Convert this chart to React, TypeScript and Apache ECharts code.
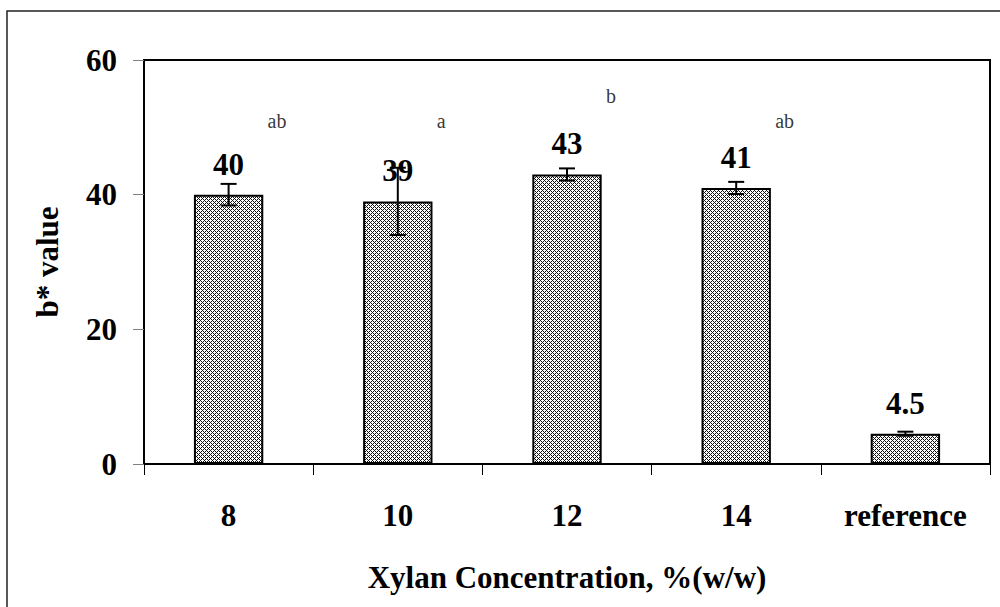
import React, { useEffect, useRef } from "react";
import * as echarts from "echarts";

const categories = ["8", "10", "12", "14", "reference"];
const values = [40, 39, 43, 41, 4.5];
const errors = [1.6, 5, 0.9, 0.9, 0.3];
const letters = ["ab", "a", "b", "ab"];
const letterHeights = [50.9, 50.9, 54.7, 50.9];
const yTicks = { min: 0, max: 60, interval: 20 };

const FONT = "Liberation Serif";
const BIG = 31;

function makePattern(): HTMLCanvasElement {
  const c = document.createElement("canvas");
  c.width = 4;
  c.height = 4;
  const ctx = c.getContext("2d")!;
  ctx.fillStyle = "#ffffff";
  ctx.fillRect(0, 0, 4, 4);
  ctx.fillStyle = "#111111";
  for (let x = 0; x < 4; x++) {
    for (let y = 0; y < 4; y++) {
      if ((x + y) % 4 === 0 || (x - y + 4) % 4 === 0) ctx.fillRect(x, y, 1, 1);
    }
  }
  return c;
}

export default function App() {
  const ref = useRef<HTMLDivElement>(null);
  useEffect(() => {
    if (!ref.current) return;
    const chart = echarts.init(ref.current, undefined, { renderer: "svg" });
    const pattern = makePattern();
    const option: any = {
      animation: false,
      backgroundColor: "#ffffff",
      textStyle: { fontFamily: FONT },
      graphic: [
        {
          type: "rect",
          shape: { x: 7, y: 11, width: 1100, height: 700 },
          style: { fill: "none", stroke: "#222", lineWidth: 1.5 },
          silent: true,
          z: 0,
        },
      ],
      grid: {
        left: 144,
        top: 60,
        right: 10,
        bottom: 143,
        show: true,
        borderColor: "#000",
        borderWidth: 2,
        backgroundColor: "transparent",
      },
      xAxis: {
        type: "category",
        data: categories,
        name: "Xylan Concentration, %(w/w)",
        nameLocation: "middle",
        nameGap: 98,
        nameTextStyle: { fontFamily: FONT, fontWeight: "bold", fontSize: BIG, color: "#000" },
        axisLine: { lineStyle: { color: "#000", width: 2 } },
        axisTick: { show: true, alignWithLabel: false, length: 11, lineStyle: { color: "#000", width: 1 } },
        axisLabel: { fontFamily: FONT, fontWeight: "bold", fontSize: BIG, color: "#000", margin: 36 },
        splitLine: { show: false },
      },
      yAxis: {
        type: "value",
        min: yTicks.min,
        max: yTicks.max,
        interval: yTicks.interval,
        name: "b* value",
        nameLocation: "middle",
        nameGap: 81,
        nameTextStyle: { fontFamily: FONT, fontWeight: "bold", fontSize: BIG, color: "#000" },
        axisLine: { show: true, lineStyle: { color: "#000", width: 2 } },
        axisTick: { show: true, length: 11, lineStyle: { color: "#808080", width: 1 } },
        axisLabel: { fontFamily: FONT, fontWeight: "bold", fontSize: BIG, color: "#000", margin: 27 },
        splitLine: { show: false },
      },
      series: [
        {
          type: "bar",
          data: values,
          barWidth: "41%",
          itemStyle: {
            color: { image: pattern, repeat: "repeat" },
            borderColor: "#000",
            borderWidth: 2,
          },
          label: {
            show: true,
            position: "top",
            distance: 15,
            fontFamily: FONT,
            fontWeight: "bold",
            fontSize: BIG,
            color: "#000",
          },
          z: 2,
        },
        {
          type: "custom",
          data: values.map((v, i) => [i, v - errors[i], v + errors[i]]),
          renderItem: (params: any, api: any) => {
            const i = api.value(0);
            const lo = api.coord([i, api.value(1)]);
            const hi = api.coord([i, api.value(2)]);
            const hw = 8;
            const style = { stroke: "#000", lineWidth: 2 };
            return {
              type: "group",
              children: [
                { type: "line", shape: { x1: lo[0], y1: lo[1], x2: hi[0], y2: hi[1] }, style },
                { type: "line", shape: { x1: lo[0] - hw, y1: lo[1], x2: lo[0] + hw, y2: lo[1] }, style },
                { type: "line", shape: { x1: hi[0] - hw, y1: hi[1], x2: hi[0] + hw, y2: hi[1] }, style },
              ],
            };
          },
          z: 3,
        },
        {
          type: "scatter",
          data: letterHeights.map((h, i) => [i, h]),
          symbolSize: 0,
          itemStyle: { color: "#000" },
          label: {
            show: true,
            position: "right",
            distance: 39,
            formatter: (p: any) => letters[p.dataIndex],
            fontFamily: FONT,
            fontSize: 20,
            color: "#000",
            textBorderWidth: 0,
          },
          z: 4,
        },
      ],
    };
    chart.setOption(option);
    return () => chart.dispose();
  }, []);
  return (
    <div
      ref={ref}
      style={{ position: "fixed", left: 0, top: 0, width: 1000, height: 607 }}
    />
  );
}
